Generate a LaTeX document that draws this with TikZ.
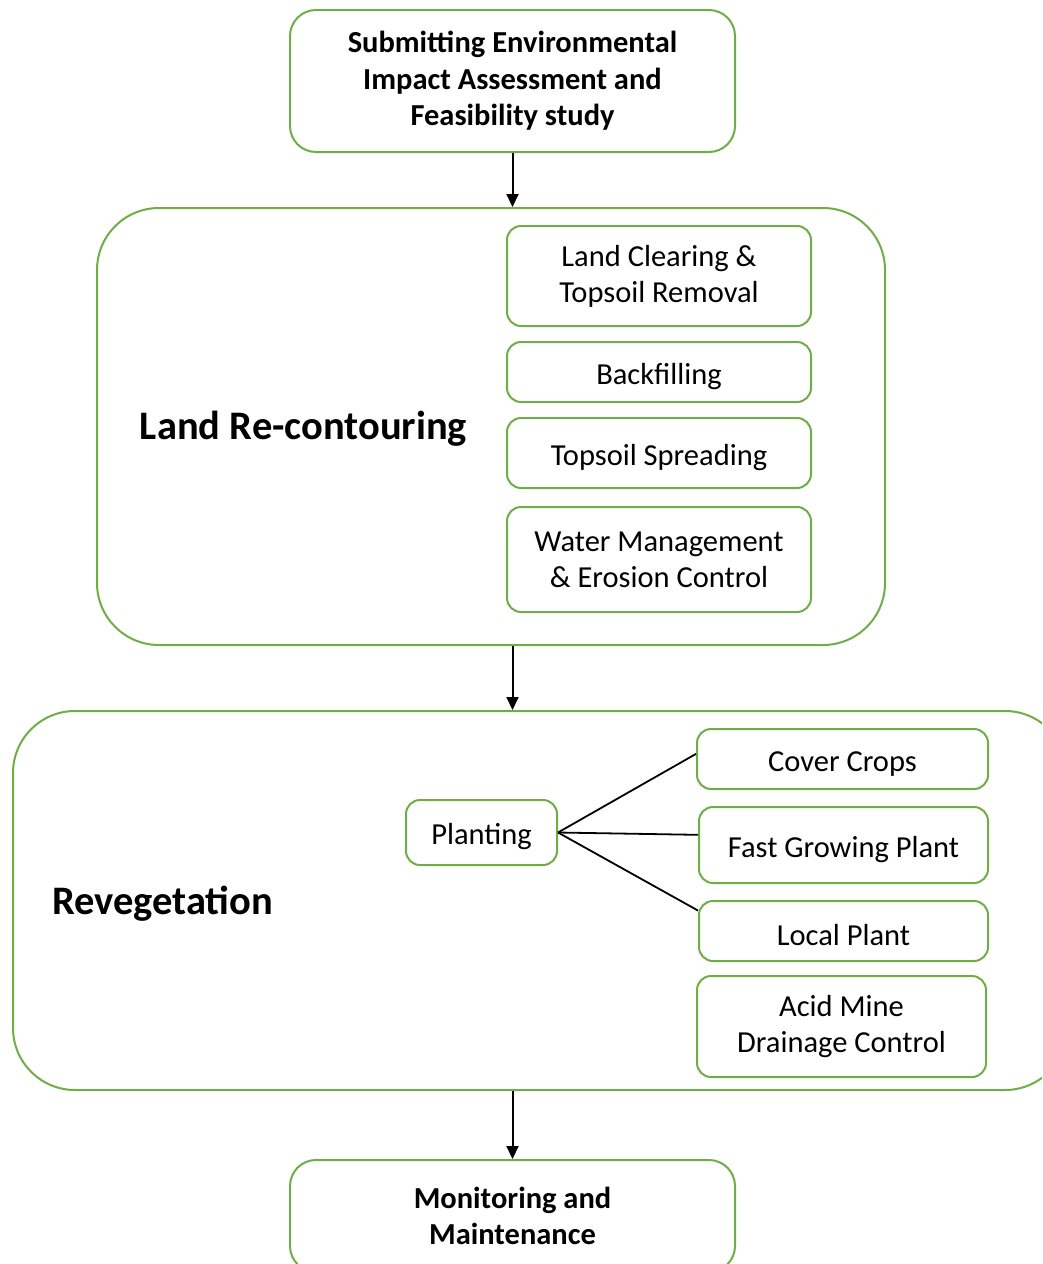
\documentclass[tikz,border=0pt]{standalone}
\usepackage{fontspec}
\setmainfont{Carlito}
\usepackage{xcolor}
\usetikzlibrary{arrows.meta,positioning}
\definecolor{leafgreen}{HTML}{70AD47}

\begin{document}
\begin{tikzpicture}[
    x=1pt, y=-1pt,
    font=\fontsize{30.5}{36}\selectfont,
    stagebox/.style={draw=leafgreen, line width=2pt, rounded corners=26pt, align=center, inner sep=0pt, font=\fontsize{30.5}{36.5}\selectfont\bfseries},
    groupbox/.style={draw=leafgreen, line width=2pt, rounded corners=62pt, inner sep=0pt},
    taskbox/.style={draw=leafgreen, line width=2pt, rounded corners=14pt, align=center, inner sep=0pt},
    linebox/.style={taskbox, text height=30pt},
    grouplabel/.style={font=\fontsize{40.5}{48}\selectfont\bfseries},
    arrow/.style={-{Triangle[length=13pt, width=12pt]}, line width=2pt},
    branch/.style={line width=1.8pt}
]
\useasboundingbox (0,0) rectangle (1042,1264);
\clip (0,0) rectangle (1042,1264);

\node[stagebox, minimum width=445pt, minimum height=142pt] (eia) at (512.5,81) {Submitting Environmental\\Impact Assessment and\\Feasibility study};

% land re-contouring group
\node[groupbox, minimum width=788pt, minimum height=437pt] (land) at (491,426.5) {};
\node[grouplabel] (landlabel) at (303.5,429) {Land Re-contouring};
\node[taskbox, minimum width=304pt, minimum height=100pt] (clearing) at (659,276) {Land Clearing \&\\Topsoil Removal};
\node[linebox, minimum width=304pt, minimum height=60pt] (backfill) at (659,372) {Backfilling};
\node[linebox, minimum width=304pt, minimum height=70pt] (spread) at (659,453) {Topsoil Spreading};
\node[taskbox, minimum width=304pt, minimum height=105pt] (water) at (659,559.5) {Water Management\\\& Erosion Control};

% revegetation group
\node[groupbox, minimum width=1054pt, minimum height=379pt] (reveg) at (540,900.5) {};
\node[grouplabel] (reveglabel) at (162.5,904) {Revegetation};
\node[linebox, minimum width=151pt, minimum height=65pt] (planting) at (481.5,832.5) {Planting};
\node[linebox, minimum width=291pt, minimum height=60pt] (cover) at (842.5,759) {Cover Crops};
\node[linebox, minimum width=289pt, minimum height=76pt] (fast) at (843.5,845) {Fast Growing Plant};
\node[linebox, minimum width=289pt, minimum height=60pt] (local) at (843.5,931) {Local Plant};
\node[taskbox, minimum width=289pt, minimum height=101pt] (acid) at (841.5,1026.5) {Acid Mine\\Drainage Control};

\node[stagebox, minimum width=445pt, minimum height=112pt] (monitor) at (512.5,1216) {Monitoring and\\Maintenance};

\draw[arrow] (eia.south) -- (eia.south |- land.north);
\draw[arrow] (land.south -| eia.south) -- (reveg.north -| eia.south);
\draw[arrow] (reveg.south -| monitor.north) -- (monitor.north);
\draw[branch] (planting.east) -- (cover.178);
\draw[branch] (planting.east) -- (fast.176.4);
\draw[branch] (planting.east) -- (local.172.9);
\end{tikzpicture}
\end{document}
